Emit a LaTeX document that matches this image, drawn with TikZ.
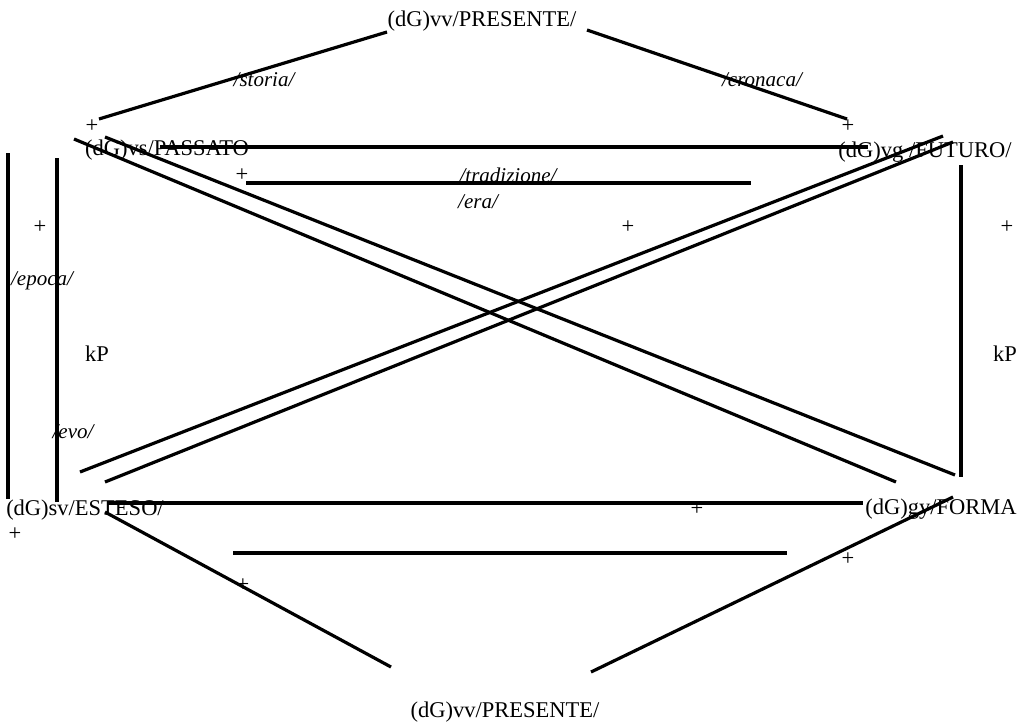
\documentclass[tikz,border=0pt]{standalone}
\usepackage{fontspec}
\setmainfont{Liberation Serif}
\begin{document}
\begin{tikzpicture}[x=1pt,y=-1pt,
  lbl/.style={inner sep=0pt,anchor=base,font=\fontsize{22.5}{27}\selectfont},
  ilbl/.style={inner sep=0pt,anchor=base,font=\fontsize{21}{25}\selectfont\itshape},
  plus/.style={inner sep=0pt,anchor=center,font=\fontsize{22.5}{27}\selectfont},
  ln/.style={line width=3.2pt}]
\useasboundingbox[fill=white] (0,0) rectangle (1019,723);

% main labels
\node[lbl] (pt) at (482,26) {(dG)vv/PRESENTE/};
\node[lbl] (pb) at (505,717) {(dG)vv/PRESENTE/};
\node[lbl] (pas) at (167,155) {(dG)vs/PASSATO};
\node[lbl] (fut) at (925,157) {(dG)vg /FUTURO/};
\node[lbl] (est) at (85,515) {(dG)sv/ESTESO/};
\node[lbl] (for) at (941,514) {(dG)gy/FORMA};
\node[lbl] (kpl) at (97,361) {kP};
\node[lbl] (kpr) at (1005,361) {kP};

% italic labels
\node[ilbl] (sto) at (264,86) {/storia/};
\node[ilbl] (cro) at (762,86) {/cronaca/};
\node[ilbl] (tra) at (508,182) {/tradizione/};
\node[ilbl] (era) at (478,208) {/era/};
\node[ilbl] (epo) at (42,285) {/epoca/};
\node[ilbl] (evo) at (73,438) {/evo/};

% plus signs
\node[plus] (p1) at (92,126) {+};
\node[plus] (p2) at (848,126) {+};
\node[plus] (p3) at (242,175) {+};
\node[plus] (p4) at (628,227) {+};
\node[plus] (p5) at (40,227) {+};
\node[plus] (p6) at (1007,227) {+};
\node[plus] (p7) at (15,534) {+};
\node[plus] (p8) at (697,509) {+};
\node[plus] (p9) at (243,585) {+};
\node[plus] (p10) at (848,559) {+};

% line end points
\coordinate (a1) at (99,119);  \coordinate (a2) at (387,32);
\coordinate (b1) at (587,30);  \coordinate (b2) at (847,119);
\coordinate (c1) at (160,147); \coordinate (c2) at (868,147);
\coordinate (d1) at (246,183); \coordinate (d2) at (751,183);
\coordinate (e1) at (8,153);   \coordinate (e2) at (8,499);
\coordinate (f1) at (57,158);  \coordinate (f2) at (57,502);
\coordinate (g1) at (961,165); \coordinate (g2) at (961,477);
\coordinate (h1) at (74,139);  \coordinate (h2) at (896,482);
\coordinate (i1) at (105,137); \coordinate (i2) at (955,475);
\coordinate (j1) at (943,136); \coordinate (j2) at (80,472);
\coordinate (k1) at (953,142); \coordinate (k2) at (105,482);
\coordinate (l1) at (108,503); \coordinate (l2) at (863,503);
\coordinate (m1) at (233,553); \coordinate (m2) at (787,553);
\coordinate (n1) at (105,512); \coordinate (n2) at (391,667);
\coordinate (o1) at (953,497); \coordinate (o2) at (591,672);

\draw[ln] (a1) -- (a2);
\draw[ln] (b1) -- (b2);
\draw[ln] (c1) -- (c2);
\draw[ln] (d1) -- (d2);
\draw[ln] (e1) -- (e2);
\draw[ln] (f1) -- (f2);
\draw[ln] (g1) -- (g2);
\draw[ln] (h1) -- (h2);
\draw[ln] (i1) -- (i2);
\draw[ln] (j1) -- (j2);
\draw[ln] (k1) -- (k2);
\draw[ln] (l1) -- (l2);
\draw[ln] (m1) -- (m2);
\draw[ln] (n1) -- (n2);
\draw[ln] (o1) -- (o2);
\end{tikzpicture}
\end{document}
